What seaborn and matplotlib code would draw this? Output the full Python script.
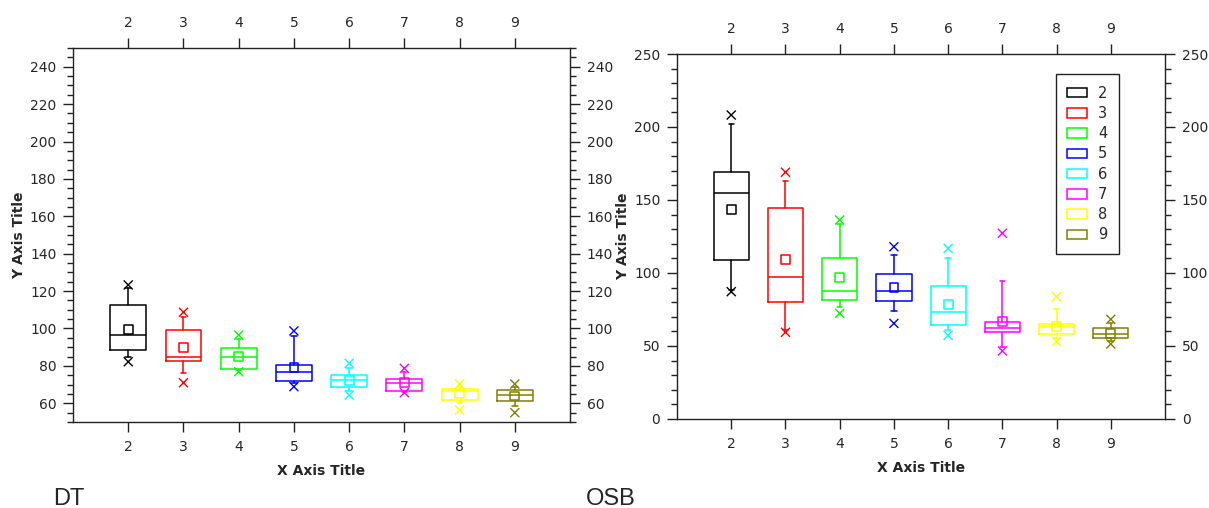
import numpy as np
import pandas as pd
import seaborn as sns
from matplotlib import pyplot as plt
from matplotlib.patches import Patch
from matplotlib.ticker import MultipleLocator, NullLocator


groups = [2, 3, 4, 5, 6, 7, 8, 9]
colors = ['#000000', '#ff0000', '#00ff00', '#0000ff', '#00ffff', '#ff00ff', '#ffff00', '#808000']

# DT panel, box statistics.
dt_q1 = [88.5, 82.6, 78.5, 71.9, 68.5, 66.6, 61.8, 61.2]
dt_med = [96.5, 84.9, 84.6, 76.6, 72.5, 70.7, 66.7, 64.4]
dt_q3 = [112.6, 99.2, 89.7, 80.5, 75.1, 73.2, 67.8, 67.1]
dt_whislo = [84.9, 76.0, 77.8, 70.6, 66.7, 66.0, 60.0, 58.6]
dt_whishi = [121.5, 106.3, 94.4, 96.0, 79.0, 76.9, 68.9, 68.9]
dt_mean = [99.6, 89.7, 85.0, 79.0, 72.4, 71.0, 65.0, 63.9]
dt_min = [82.2, 71.0, 76.9, 68.9, 64.4, 65.7, 56.4, 55.0]
dt_max = [123.3, 108.7, 96.5, 98.7, 81.4, 78.7, 70.3, 70.3]

# OSB panel.
osb_q1 = [108.7, 79.9, 81.3, 80.6, 64.6, 59.6, 58.0, 55.3]
osb_med = [154.6, 97.3, 87.9, 87.9, 73.1, 62.1, 62.8, 58.0]
osb_q3 = [169.0, 144.7, 110.5, 99.5, 91.3, 66.2, 65.3, 62.1]
osb_whislo = [88.4, 61.0, 76.5, 74.0, 61.0, 49.5, 55.3, 53.6]
osb_whishi = [202.0, 163.0, 133.6, 112.1, 110.5, 94.5, 75.3, 65.5]
osb_mean = [143.4, 109.4, 96.8, 90.2, 78.5, 66.7, 63.2, 58.7]
osb_min = [87.2, 59.4, 72.4, 65.5, 57.3, 46.6, 53.0, 51.4]
osb_max = [208.2, 169.0, 136.3, 118.0, 116.9, 127.2, 83.8, 68.3]

sns.set_style("ticks")
plt.rcParams['font.family'] = ['DejaVu Sans']
plt.rcParams['axes.linewidth'] = 1.0
plt.rcParams['axes.edgecolor'] = '#222222'


# Draw one Origin-like box chart panel.
def draw_panel(ax, q1, med, q3, whislo, whishi, mean, vmin, vmax):
    stats = []
    for i in range(len(groups)):
        stats.append(dict(q1=q1[i], med=med[i], q3=q3[i], whislo=whislo[i], whishi=whishi[i], fliers=[]))
    parts = ax.bxp(stats, positions=groups, widths=0.65, capwidths=0.1,
                   showfliers=False, manage_ticks=False)
    for i, c in enumerate(colors):
        parts['boxes'][i].set(color=c, linewidth=1.1)
        parts['medians'][i].set(color=c, linewidth=1.1)
        for j in (2 * i, 2 * i + 1):
            parts['whiskers'][j].set(color=c, linewidth=1.1)
            parts['caps'][j].set(color=c, linewidth=1.1)

    df = pd.DataFrame({'group': groups, 'mean': mean, 'min': vmin, 'max': vmax})
    sq = sns.scatterplot(data=df, x='group', y='mean', hue='group', palette=colors,
                         marker='s', s=40, linewidth=1.1, legend=False, ax=ax)
    coll = sq.collections[-1]
    coll.set_edgecolor(coll.get_facecolor())
    coll.set_facecolor('none')
    for col in ('min', 'max'):
        sns.scatterplot(data=df, x='group', y=col, hue='group', palette=colors,
                        marker='x', s=42, linewidth=1.0, legend=False, ax=ax)

    ax.set_xlim(1, 10)
    ax.set_xticks(groups)
    ax.set_xticklabels([str(g) for g in groups])
    ax.xaxis.set_minor_locator(NullLocator())
    ax.tick_params(axis='both', which='both', direction='out', top=True, right=True,
                   labeltop=True, labelright=True, labelsize=10, color='#222222')
    ax.tick_params(which='major', length=7, width=1, pad=5)
    ax.tick_params(axis='x', which='major', pad=6)
    ax.tick_params(which='minor', length=4.5, width=1)
    ax.set_xlabel('X Axis Title', fontweight='bold', fontsize=10, labelpad=7)
    ax.set_ylabel('Y Axis Title', fontweight='bold', fontsize=10, labelpad=3)
    for s in ax.spines.values():
        s.set_visible(True)


fig = plt.figure(figsize=(12.09, 5.08), dpi=100)
ax1 = fig.add_axes([0.0604, 0.1693, 0.4111, 0.7362])
ax2 = fig.add_axes([0.560, 0.1752, 0.4036, 0.7185])

draw_panel(ax1, dt_q1, dt_med, dt_q3, dt_whislo, dt_whishi, dt_mean, dt_min, dt_max)
ax1.set_ylim(50, 250)
ax1.set_yticks(np.arange(60, 241, 20))
ax1.yaxis.set_minor_locator(MultipleLocator(5))

draw_panel(ax2, osb_q1, osb_med, osb_q3, osb_whislo, osb_whishi, osb_mean, osb_min, osb_max)
ax2.set_ylim(0, 250)
ax2.set_yticks(np.arange(0, 251, 50))
ax2.yaxis.set_minor_locator(MultipleLocator(10))

handles = [Patch(facecolor='none', edgecolor=c, linewidth=1.1, label=str(g)) for g, c in zip(groups, colors)]
leg = ax2.legend(handles=handles, loc='upper right', bbox_to_anchor=(0.906, 0.945),
                 borderaxespad=0, fancybox=False, framealpha=1, edgecolor='#222222',
                 fontsize=10.5, handlelength=1.35, handleheight=0.65, handletextpad=0.75,
                 labelspacing=0.36, borderpad=0.8)
leg.get_frame().set_linewidth(1.0)

fig.text(53 / 1209, 3 / 508, 'DT', fontsize=17, family='Liberation Sans', va='baseline')
fig.text(586 / 1209, 3 / 508, 'OSB', fontsize=17, family='Liberation Sans', va='baseline')

plt.savefig('out.png', dpi=100)
